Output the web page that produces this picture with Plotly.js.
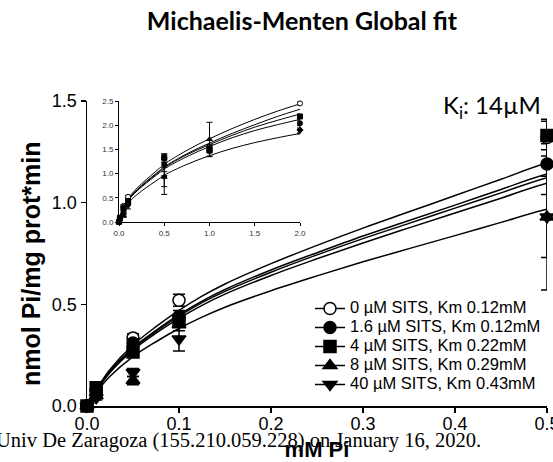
<!DOCTYPE html>
<html><head><meta charset="utf-8">
<script src="https://cdn.plot.ly/plotly-3.0.1.min.js"></script>
<style>html,body{margin:0;padding:0;background:#fff}#chart{width:553px;height:462px}</style>
</head><body><div id="chart"></div>
<script>
// ---- data ----
const seriesNames = ['0 µM SITS, Km 0.12mM', '1.6 µM SITS, Km 0.12mM', '4 µM SITS, Km 0.22mM', '8 µM SITS, Km 0.29mM', '40 µM SITS, Km 0.43mM'];
const substrate = [0, 0.01, 0.05, 0.1, 0.5, 1, 2];
const rate0  = [0, 0.08, 0.335, 0.52, 1.32, 1.55, 2.45];
const rate16 = [0, 0.08, 0.31, 0.44, 1.19, 1.52, 2.04];
const rate4  = [0, 0.09, 0.265, 0.42, 1.33, 1.48, 2.18];
const rate8  = [0, 0.05, 0.125, 0.40, 0.93, 1.71, 1.92];
const rate40 = [0, 0.04, 0.165, 0.33, 0.93, 1.45, 1.88];
const err0  = [0, 0.01, 0.02, 0.03, 0.09, 0.05, 0.03];
const err16 = [0, 0.01, 0.02, 0.03, 0.15, 0.05, 0.05];
const err4  = [0, 0.01, 0.02, 0.03, 0.07, 0.05, 0.05];
const err8  = [0, 0.01, 0.02, 0.03, 0.36, 0.35, 0.08];
const err40 = [0, 0.01, 0.02, 0.06, 0.20, 0.10, 0.06];
const fitS   = [0, 0.01, 0.025, 0.05, 0.075, 0.1, 0.125, 0.15, 0.2, 0.25, 0.3, 0.35, 0.4, 0.45, 0.5, 0.75, 1, 1.25, 1.5, 1.75, 2];
const fit0   = [0, 0.08, 0.18, 0.30, 0.39, 0.47, 0.54, 0.60, 0.70, 0.79, 0.875, 0.955, 1.035, 1.115, 1.195, 1.48, 1.72, 1.93, 2.12, 2.29, 2.44];
const fit16  = [0, 0.076, 0.172, 0.287, 0.372, 0.449, 0.516, 0.573, 0.669, 0.754, 0.836, 0.912, 0.988, 1.065, 1.141, 1.41, 1.63, 1.83, 2.01, 2.18, 2.33];
const fit4   = [0, 0.075, 0.169, 0.282, 0.367, 0.442, 0.508, 0.564, 0.658, 0.743, 0.823, 0.898, 0.973, 1.048, 1.123, 1.39, 1.60, 1.79, 1.96, 2.10, 2.23];
const fit8   = [0, 0.073, 0.165, 0.275, 0.358, 0.431, 0.495, 0.550, 0.642, 0.724, 0.802, 0.876, 0.949, 1.022, 1.096, 1.35, 1.56, 1.74, 1.89, 2.01, 2.12];
const fit40  = [0, 0.065, 0.146, 0.243, 0.316, 0.381, 0.437, 0.486, 0.567, 0.640, 0.709, 0.774, 0.838, 0.903, 0.968, 1.19, 1.37, 1.52, 1.64, 1.74, 1.83];
const mainXTicks = [0, 0.1, 0.2, 0.3, 0.4, 0.5];
const mainYTicks = [0, 0.5, 1.0, 1.5];
const insetXTicks = [0, 0.5, 1.0, 1.5, 2.0];
const insetYTicks = [0, 0.5, 1.0, 1.5, 2.0, 2.5];
const symbols = ['circle', 'circle', 'square', 'triangle-up', 'triangle-down'];
const fills = ['white', 'black', 'black', 'black', 'black'];
const mainXMax = 0.5;

const rates = [rate0, rate16, rate4, rate8, rate40];
const errs = [err0, err16, err4, err8, err40];
const fits = [fit0, fit16, fit4, fit8, fit40];

const traces = [];
// fitted curves (main + inset)
fits.forEach(f => {
  traces.push({x: fitS, y: f, mode: 'lines', line: {color: 'black', width: 1.5, shape: 'spline'}, showlegend: false, hoverinfo: 'skip', xaxis: 'x', yaxis: 'y'});
  traces.push({x: fitS, y: f, mode: 'lines', line: {color: 'black', width: 1, shape: 'spline'}, showlegend: false, hoverinfo: 'skip', xaxis: 'x2', yaxis: 'y2'});
});
// data points (main; separated by gaps so the legend shows line+marker only)
rates.forEach((r, i) => {
  const xs = [], ys = [], es = [];
  substrate.forEach((s, k) => {
    if (s <= mainXMax) { xs.push(s, null); ys.push(r[k], null); es.push(errs[i][k], null); }
  });
  traces.push({
    x: xs, y: ys, name: '<span style="font-size:16.5px">' + seriesNames[i] + '</span>',
    mode: 'lines+markers', connectgaps: false, cliponaxis: false,
    line: {color: 'black', width: 1.5},
    marker: {symbol: symbols[i], size: 12, color: fills[i], line: {color: 'black', width: 1.5}},
    error_y: {type: 'data', array: es, visible: true, color: 'black', thickness: 1.5, width: 6},
    xaxis: 'x', yaxis: 'y'
  });
});
// data points (inset)
rates.forEach((r, i) => {
  traces.push({
    x: substrate, y: r, mode: 'markers', cliponaxis: false, showlegend: false,
    marker: {symbol: symbols[i], size: 5, color: fills[i], line: {color: 'black', width: 1}},
    error_y: {type: 'data', array: errs[i], visible: true, color: 'black', thickness: 1, width: 3},
    xaxis: 'x2', yaxis: 'y2'
  });
});

const W = 553, H = 462;
const mainAxis = {showline: true, linecolor: 'black', linewidth: 1.5, ticks: 'outside', ticklen: 5, tickwidth: 1.5, tickcolor: 'black',
  showgrid: false, zeroline: false, tickformat: '.1f', tickmode: 'array', ticklabeloverflow: 'allow',
  tickfont: {family: 'Arial', size: 18, color: 'black'}};
const insetAxis = {showline: true, linecolor: 'black', linewidth: 1, ticks: 'outside', ticklen: 3, tickwidth: 1, tickcolor: 'black',
  showgrid: false, zeroline: false, tickformat: '.1f', tickmode: 'array', ticklabeloverflow: 'allow',
  tickfont: {family: 'Arial', size: 8, color: '#333'}};

const layout = {
  width: W, height: H, margin: {l: 0, r: 0, t: 0, b: 0},
  paper_bgcolor: 'white', plot_bgcolor: 'rgba(0,0,0,0)',
  title: {text: 'Michaelis-Menten Global fit', font: {family: 'Lato', size: 25, weight: 'bold', color: 'black'},
          xref: 'paper', yref: 'paper', x: 302 / W, xanchor: 'center', y: 1 - 21 / H, yanchor: 'middle'},
  xaxis: Object.assign({}, mainAxis, {domain: [87 / W, 547 / W], range: [0, 0.5], tickvals: mainXTicks, anchor: 'y', ticklabelstandoff: -4,
          title: {text: 'mM Pi', font: {family: 'Arial', size: 22, weight: 'bold', color: 'black'}, standoff: 17}}),
  yaxis: Object.assign({}, mainAxis, {domain: [1 - 406 / H, 1 - 101 / H], range: [0, 1.5], tickvals: mainYTicks, anchor: 'x'}),
  xaxis2: Object.assign({}, insetAxis, {domain: [119 / W, 300 / W], range: [0, 2], tickvals: insetXTicks, anchor: 'y2'}),
  yaxis2: Object.assign({}, insetAxis, {domain: [1 - 222 / H, 1 - 101 / H], range: [0, 2.5], tickvals: insetYTicks, anchor: 'x2'}),
  showlegend: true,
  legend: {x: 310 / W, xanchor: 'left', y: 1 - 294 / H, yanchor: 'top', bgcolor: 'rgba(0,0,0,0)',
           font: {family: 'Arial', size: 12, color: 'black'}, itemwidth: 30, tracegroupgap: 0},
  annotations: [
    {text: 'K<sub>i</sub>: 14µM', xref: 'paper', yref: 'paper', x: 492 / W, y: 1 - 106 / H, xanchor: 'center', yanchor: 'middle',
     showarrow: false, font: {family: 'Lato', size: 24, color: 'black'}},
    {text: 'nmol Pi/mg prot*min', xref: 'paper', yref: 'paper', x: 31 / W, y: 1 - 264 / H, xanchor: 'center', yanchor: 'middle',
     textangle: -90, showarrow: false, font: {family: 'Arial', size: 25, weight: 'bold', color: 'black'}},
    {text: 'Univ De Zaragoza (155.210.059.228) on January 16, 2020.', xref: 'paper', yref: 'paper', x: -6 / W, y: 1 - 440 / H,
     xanchor: 'left', yanchor: 'middle', showarrow: false, font: {family: 'Liberation Serif', size: 20.5, color: 'black'}}
  ]
};
Plotly.newPlot('chart', traces, layout, {displayModeBar: false, staticPlot: true});
</script></body></html>
